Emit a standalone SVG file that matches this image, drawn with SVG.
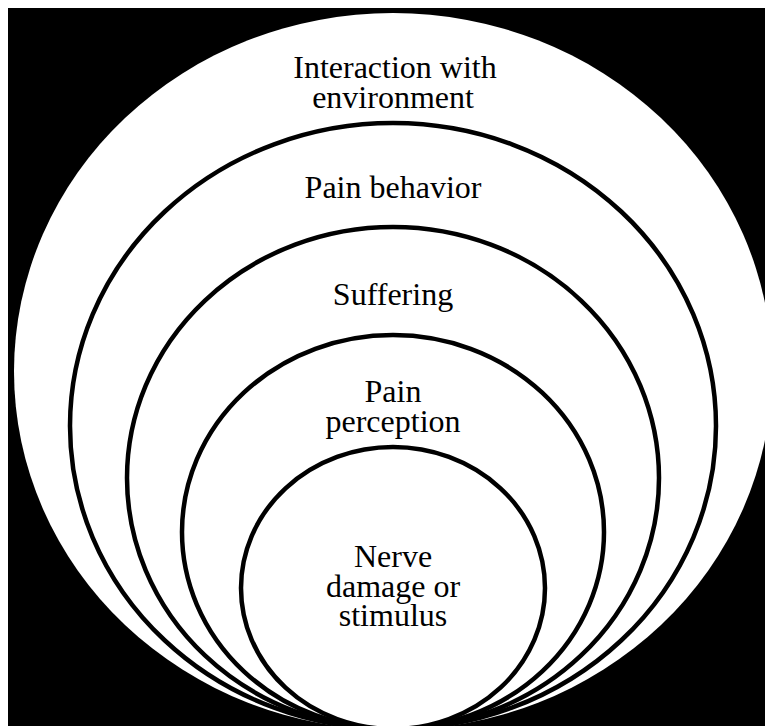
<svg xmlns="http://www.w3.org/2000/svg" width="765" height="726" viewBox="0 0 765 726">
<style>
.ring{fill:#fff;stroke:#000;stroke-width:4.5}
.lbl{font-family:"Liberation Serif","Times New Roman",serif;font-size:32px;fill:#000;text-anchor:middle}
</style>
<rect x="0" y="0" width="765" height="726" fill="#fff"/>
<rect x="8" y="8" width="757" height="718" fill="#000"/>
<g id="interaction">
<ellipse cx="393" cy="371.5" rx="379" ry="358.5" fill="#fff"/>
<text class="lbl" x="395" y="78">Interaction with</text>
<text class="lbl" x="393" y="108">environment</text>
</g>
<g id="behavior">
<ellipse class="ring" cx="393" cy="426" rx="323" ry="303"/>
<text class="lbl" x="393" y="198">Pain behavior</text>
</g>
<g id="suffering">
<ellipse class="ring" cx="393" cy="478" rx="266" ry="251"/>
<text class="lbl" x="393" y="305">Suffering</text>
</g>
<g id="perception">
<ellipse class="ring" cx="393" cy="532" rx="211" ry="197"/>
<text class="lbl" x="393" y="402">Pain</text>
<text class="lbl" x="393" y="432">perception</text>
</g>
<g id="nerve">
<ellipse class="ring" cx="393" cy="588" rx="152" ry="141"/>
<text class="lbl" x="393" y="567">Nerve</text>
<text class="lbl" x="393" y="597">damage or</text>
<text class="lbl" x="393" y="626">stimulus</text>
</g>
<g id="connectors"/>
</svg>
